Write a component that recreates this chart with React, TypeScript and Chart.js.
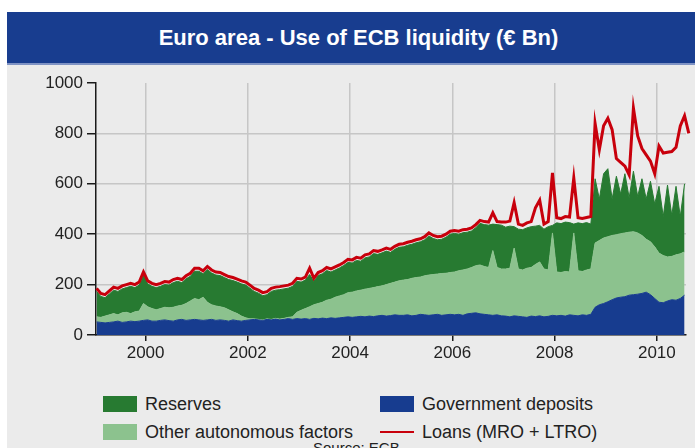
import React, { useEffect, useRef } from "react";
import { Chart, registerables } from "chart.js";

Chart.register(...registerables);

// ---- Data (monthly, Jan 1999 onwards, € Bn) ----
const START_YEAR = 1999;
const X_TICKS = [2000, 2002, 2004, 2006, 2008, 2010];
const Y_TICKS = [0, 200, 400, 600, 800, 1000];

const GOV = [
  52, 50, 48, 50, 52, 55, 50, 52, 55, 53, 55, 58,
  60, 55, 55, 58, 60, 57, 55, 60, 62, 58, 60, 62,
  60, 58, 60, 62, 58, 60, 58, 55, 60, 57, 55, 58,
  60, 62, 60, 58, 62, 60, 63, 60, 62, 65, 62, 65,
  63, 65, 62, 66, 64, 67, 65, 68, 66, 68, 70, 72,
  70, 72, 74, 72, 75, 73, 76, 78, 75, 77, 80, 78,
  78, 80, 76, 78, 82, 80, 78, 80, 82, 78, 80, 82,
  80, 82, 78, 84, 86, 88, 84, 82, 80, 78, 80, 76,
  75, 72, 76, 74, 72, 70, 75, 73, 76, 72, 74, 78,
  76, 78, 75, 80, 78, 76, 80, 78, 82, 110, 120, 125,
  132, 140, 147, 150, 152, 158, 160, 162, 165, 170, 160, 145,
  130, 128, 135, 140, 138, 145, 158,
];

const OAF = [
  20, 20, 27, 30, 33, 25, 38, 38, 30, 39, 40, 67,
  52, 50, 45, 47, 50, 51, 55, 55, 56, 67, 75, 83,
  80, 92, 70, 58, 57, 52, 50, 45, 32, 28, 20, 10,
  4, 2, 2, 2, 2, 2, 3, 3, 4, 5, 10, 25,
  35, 40, 50, 54, 61, 63, 73, 74, 84, 87, 90, 96,
  100, 103, 104, 110, 110, 115, 116, 117, 125, 128, 130, 137,
  140, 140, 149, 150, 148, 155, 160, 160, 160, 166, 165, 166,
  170, 173, 180, 178, 182, 187, 194, 190, 188, 257, 188, 186,
  187, 193, 269, 188, 186, 195, 193, 207, 214, 190, 184, 327,
  174, 170, 177, 170, 327, 179, 172, 180, 180, 255, 255, 260,
  258, 255, 251, 252, 253, 250, 250, 243, 230, 210, 210, 205,
  195, 187, 175, 172, 180, 177, 172,
];

const RES = [
  101, 83, 73, 83, 93, 93, 95, 98, 108, 96, 103, 113,
  91, 88, 88, 88, 90, 90, 98, 98, 90, 98, 98, 108,
  113, 93, 130, 126, 123, 124, 120, 120, 124, 125, 128, 130,
  122, 109, 104, 96, 96, 111, 112, 117, 117, 116, 121, 123,
  112, 113, 128, 93, 111, 113, 118, 108, 108, 111, 116, 120,
  116, 121, 115, 124, 125, 135, 128, 131, 133, 123, 130, 133,
  132, 136, 135, 138, 140, 143, 155, 143, 136, 136, 143, 152,
  153, 145, 148, 146, 145, 151, 165, 166, 168, 105, 170, 174,
  166, 167, 85, 158, 160, 160, 162, 152, 145, 158, 172, 30,
  195, 194, 196, 196, 35, 190, 190, 188, 178, 255, 165, 255,
  270, 145, 232, 158, 235, 137, 240, 145, 225, 160, 240, 170,
  265, 155, 285, 163, 272, 148, 270,
];

const LOANS = [
  185, 165, 160, 175, 190, 185, 195, 200, 205, 200, 210, 250,
  215, 205, 200, 205, 212, 210, 220, 225, 220, 235, 245, 265,
  265, 255, 272, 258, 250, 248, 240, 232, 228, 222, 215, 210,
  198, 185, 178, 168, 172, 185, 190, 192, 195, 198, 205, 225,
  222, 230, 265, 225, 248, 255, 268, 262, 270, 278, 288, 300,
  298, 308, 305, 318, 322, 335, 332, 338, 345, 340, 352, 360,
  362, 368, 372, 378, 382, 390, 405, 395, 390, 392, 400, 412,
  415, 412, 418, 420, 425, 438, 455, 450, 448, 485, 450, 448,
  448, 452, 525, 440, 435, 445, 450, 505, 535, 440, 450, 643,
  465, 462, 470, 468, 623, 465, 462, 466, 470, 840, 735, 830,
  860, 815, 700, 685, 670, 635, 900, 790, 740, 715, 690, 640,
  750, 722, 725, 728, 745, 830, 870, 800, 745, 700,
];

const LABELS = {
  res: "Reserves",
  oaf: "Other autonomous factors",
  gov: "Government deposits",
  loans: "Loans (MRO + LTRO)",
};

const COLORS = {
  res: "#277a31",
  oaf: "#8cc28e",
  gov: "#173c8f",
  loans: "#c8000c",
  banner: "#183d8f",
  panel: "#ebebeb",
  grid: "#c6c6c6",
  axis: "#1a1a1a",
  text: "#222222",
};

const FONT = "'Liberation Sans', Arial, Helvetica, sans-serif";

function monthX(i: number): number {
  return START_YEAR + (i + 0.5) / 12;
}

function toPoints(arr: number[]) {
  return arr.map((v, i) => ({ x: monthX(i), y: v }));
}

export default function App() {
  const ref = useRef<HTMLCanvasElement>(null);

  useEffect(() => {
    if (!ref.current) return;
    Chart.defaults.font.family = FONT;
    const areaBase = {
      pointRadius: 0,
      pointHoverRadius: 0,
      borderWidth: 1,
      tension: 0,
      stack: "liq",
    };
    const chart = new Chart(ref.current, {
      type: "line",
      data: {
        datasets: [
          {
            label: LABELS.loans,
            data: toPoints(LOANS),
            borderColor: COLORS.loans,
            backgroundColor: COLORS.loans,
            borderWidth: 3,
            pointRadius: 0,
            tension: 0,
            fill: false,
            stack: "loans",
            clip: false,
          } as any,
          {
            ...areaBase,
            label: LABELS.gov,
            data: toPoints(GOV),
            borderColor: COLORS.gov,
            backgroundColor: COLORS.gov,
            fill: "origin",
          } as any,
          {
            ...areaBase,
            label: LABELS.oaf,
            data: toPoints(OAF),
            borderColor: COLORS.oaf,
            backgroundColor: COLORS.oaf,
            fill: "-1",
          } as any,
          {
            ...areaBase,
            label: LABELS.res,
            data: toPoints(RES),
            borderColor: COLORS.res,
            backgroundColor: COLORS.res,
            fill: "-1",
          } as any,
        ],
      },
      options: {
        animation: false,
        responsive: false,
        devicePixelRatio: 1,
        events: [],
        layout: { padding: { left: 0, right: 9, top: 18, bottom: 0 } },
        plugins: {
          legend: { display: false },
          tooltip: { enabled: false },
          title: { display: false },
        },
        scales: {
          x: {
            type: "linear",
            min: 1999.03,
            max: 2010.57,
            afterBuildTicks: (s: any) => {
              s.ticks = X_TICKS.map((v) => ({ value: v }));
            },
            afterFit: (s: any) => {
              s.height = 35;
            },
            ticks: {
              autoSkip: false,
              maxRotation: 0,
              padding: 2,
              color: COLORS.text,
              font: { size: 17, family: FONT },
              callback: (v: any) => String(v),
            },
            grid: {
              color: COLORS.grid,
              lineWidth: 1.5,
              tickColor: COLORS.axis,
              tickLength: 6,
              tickWidth: 1.5,
            },
            border: { color: COLORS.axis, width: 1.5 },
          },
          y: {
            type: "linear",
            stacked: true,
            min: 0,
            max: 1000,
            afterBuildTicks: (s: any) => {
              s.ticks = Y_TICKS.map((v) => ({ value: v }));
            },
            afterFit: (s: any) => {
              s.width = 96;
            },
            ticks: {
              padding: 4,
              color: COLORS.text,
              font: { size: 17, family: FONT },
              callback: (v: any) => String(v),
            },
            grid: {
              color: (ctx: any) =>
                ctx.tick && ctx.tick.value === 1000 ? "rgba(0,0,0,0)" : COLORS.grid,
              lineWidth: 1.5,
              tickColor: COLORS.axis,
              tickLength: 9,
              tickWidth: 1.5,
            },
            border: { color: COLORS.axis, width: 1.5 },
          },
        },
      },
    });
    return () => chart.destroy();
  }, []);

  const swatch = (color: string): React.CSSProperties => ({
    width: 34,
    height: 16,
    background: color,
    marginRight: 8,
    flex: "0 0 auto",
  });
  const item = (left: number, top: number): React.CSSProperties => ({
    position: "absolute",
    left,
    top,
    height: 18,
    display: "flex",
    alignItems: "center",
    fontFamily: FONT,
    fontSize: 18,
    color: COLORS.text,
    whiteSpace: "nowrap",
  });

  return (
    <div
      style={{
        position: "fixed",
        left: 0,
        top: 0,
        width: 695,
        height: 448,
        background: "#ffffff",
        overflow: "hidden",
      }}
    >
      <div
        style={{
          position: "absolute",
          left: 7,
          top: 12,
          width: 688,
          height: 436,
          background: COLORS.panel,
        }}
      />
      <div
        style={{
          position: "absolute",
          left: 7,
          top: 12,
          width: 688,
          height: 51,
          background: COLORS.banner,
          borderBottom: "2px solid #7f93c4",
          boxSizing: "content-box",
        }}
      >
        <div
          style={{
            paddingLeft: 15,
            lineHeight: "51px",
            textAlign: "center",
            color: "#ffffff",
            fontFamily: FONT,
            fontWeight: "bold",
            fontSize: 22,
          }}
        >
          Euro area - Use of ECB liquidity (€ Bn)
        </div>
      </div>
      <canvas
        ref={ref}
        width={695}
        height={305}
        style={{ position: "absolute", left: 0, top: 65, width: 695, height: 305 }}
      />
      <div style={item(103, 395)}>
        <div style={swatch(COLORS.res)} />
        <span>{LABELS.res}</span>
      </div>
      <div style={item(103, 423)}>
        <div style={swatch(COLORS.oaf)} />
        <span>{LABELS.oaf}</span>
      </div>
      <div style={item(380, 395)}>
        <div style={swatch(COLORS.gov)} />
        <span>{LABELS.gov}</span>
      </div>
      <div style={item(380, 423)}>
        <div style={{ width: 34, height: 2, background: COLORS.loans, marginRight: 8 }} />
        <span>{LABELS.loans}</span>
      </div>
      <div
        style={{
          position: "absolute",
          left: 313,
          top: 439,
          fontFamily: FONT,
          fontSize: 15,
          color: COLORS.text,
          whiteSpace: "nowrap",
        }}
      >
        Source: ECB
      </div>
    </div>
  );
}
